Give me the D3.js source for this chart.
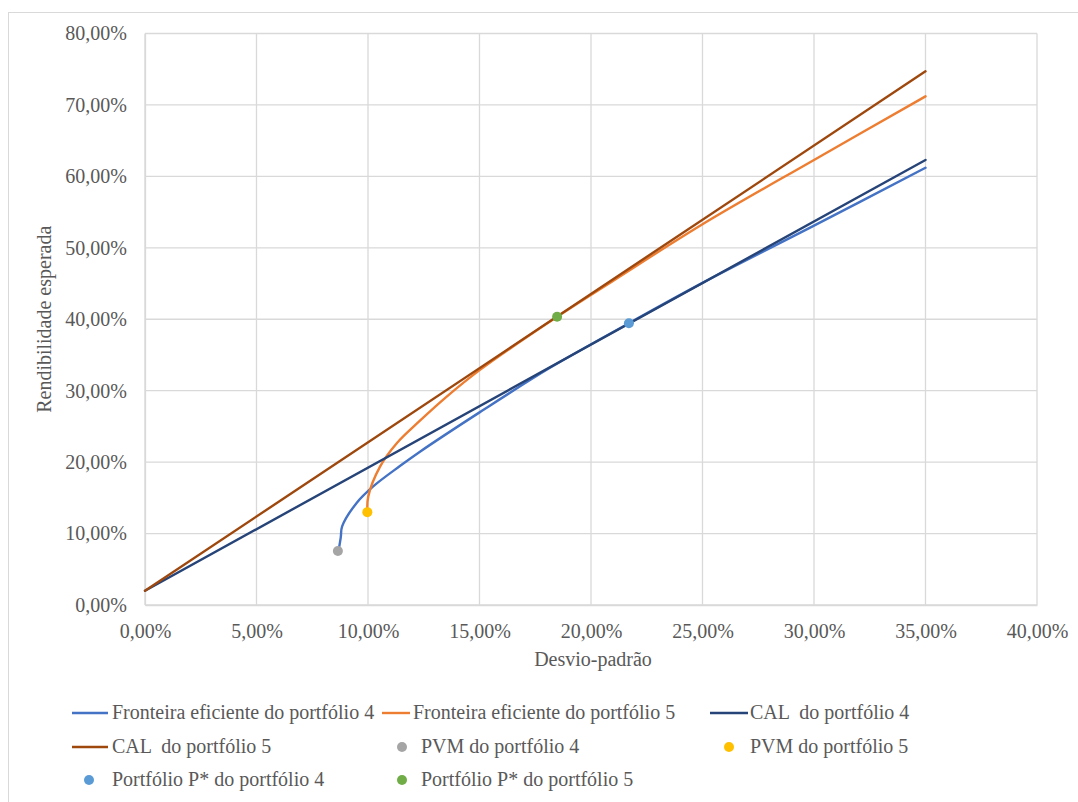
<!DOCTYPE html>
<html><head><meta charset="utf-8">
<script src="https://cdn.jsdelivr.net/npm/d3@7"></script>
<style>
html,body{margin:0;padding:0;background:#fff;}
</style></head>
<body>
<svg id="c" width="1078" height="802"></svg>
<script>
// ---- data (σ %, E[r] %) ----
const xTicks = [0, 5, 10, 15, 20, 25, 30, 35, 40];
const yTicks = [0, 10, 20, 30, 40, 50, 60, 70, 80];
const frontier4Sigma = [8.68, 8.78, 8.84, 9.49, 10.22, 11.43, 12.33, 15.02, 18.16, 21.70, 25.00, 30.00, 35.00];
const frontier4Ret   = [7.60, 9.50, 11.00, 14.29, 16.57, 19.45, 21.46, 27.00, 33.20, 39.45, 45.10, 53.10, 61.20];
const frontier5Sigma = [9.97, 10.01, 10.54, 11.29, 12.33, 13.53, 15.02, 18.48, 21.00, 25.00, 30.00, 35.00];
const frontier5Ret   = [13.00, 15.17, 19.37, 22.65, 25.80, 29.17, 32.91, 40.35, 45.40, 53.30, 62.30, 71.20];
const cal4Sigma = [0, 35];
const cal4Ret   = [2.0, 62.3];
const cal5Sigma = [0, 35];
const cal5Ret   = [2.0, 74.7];
const pvm4 = [8.65, 7.56];
const pvm5 = [9.97, 13.00];
const pStar4 = [21.70, 39.45];
const pStar5 = [18.48, 40.35];
const seriesNames = [
  "Fronteira eficiente do portfólio 4",
  "Fronteira eficiente do portfólio 5",
  "CAL  do portfólio 4",
  "CAL  do portfólio 5",
  "PVM do portfólio 4",
  "PVM do portfólio 5",
  "Portfólio P* do portfólio 4",
  "Portfólio P* do portfólio 5"
];
const colors = ["#4472C4", "#ED7D31", "#264478", "#9E480E", "#A5A5A5", "#FFC000", "#5B9BD5", "#70AD47"];

// ---- layout ----
const W = 1078, H = 802;
const plot = {left: 145, right: 1037, top: 33.5, bottom: 605};
const fs = 20;
const FONT = "\"Liberation Serif\"";
const TXT = "#595959";
const svg = d3.select("#c");
svg.append("rect").attr("x", 0).attr("y", 0).attr("width", W).attr("height", H).attr("fill", "#fff");
svg.append("rect").attr("x", 8.5).attr("y", 12.5).attr("width", 1080).attr("height", 820)
  .attr("fill", "none").attr("stroke", "#d9d9d9").attr("stroke-width", 1);

const x = d3.scaleLinear().domain([0, 40]).range([plot.left, plot.right]);
const y = d3.scaleLinear().domain([0, 80]).range([plot.bottom, plot.top]);
const fmt = v => v.toFixed(2).replace(".", ",") + "%";

// gridlines
const g = svg.append("g");
g.selectAll(".vg").data(xTicks).join("line")
  .attr("x1", d => x(d)).attr("x2", d => x(d)).attr("y1", plot.top).attr("y2", plot.bottom)
  .attr("stroke", "#d9d9d9").attr("stroke-width", 1.3);
g.selectAll(".hg").data(yTicks).join("line")
  .attr("x1", plot.left).attr("x2", plot.right).attr("y1", d => y(d)).attr("y2", d => y(d))
  .attr("stroke", "#d9d9d9").attr("stroke-width", 1.3);

// axes (labels only)
const xAxis = d3.axisBottom(x).tickValues(xTicks).tickFormat(fmt).tickSize(0).tickPadding(0);
const gx = svg.append("g").attr("transform", `translate(0,${plot.bottom})`).call(xAxis);
gx.attr("font-family", FONT);
gx.select(".domain").attr("stroke", "#d9d9d9").attr("stroke-width", 1.3);
gx.selectAll("text").attr("font-size", fs).attr("y", 27).attr("dy", "0.32em")
  .attr("font-family", FONT).attr("fill", TXT);

const yAxis = d3.axisLeft(y).tickValues(yTicks).tickFormat(fmt).tickSize(0).tickPadding(0);
const gy = svg.append("g").attr("transform", `translate(${plot.left},0)`).call(yAxis);
gy.attr("font-family", FONT);
gy.select(".domain").attr("stroke", "#d9d9d9").attr("stroke-width", 1.3);
gy.selectAll("text").attr("font-size", fs).attr("x", -18).attr("dy", "0.32em")
  .attr("font-family", FONT).attr("fill", TXT);

// axis titles
svg.append("text").attr("x", (plot.left + plot.right) / 2 + 2).attr("y", 660).attr("dy", "0.32em")
  .attr("text-anchor", "middle").attr("font-size", fs).attr("font-family", FONT).attr("fill", TXT)
  .text("Desvio-padrão");
svg.append("text").attr("transform", `translate(45,${(plot.top + plot.bottom) / 2}) rotate(-90)`)
  .attr("dy", "0.32em").attr("text-anchor", "middle").attr("font-size", fs).attr("font-family", FONT)
  .attr("fill", TXT).text("Rendibilidade esperada");

// lines
const zip = (a, b) => a.map((v, i) => [v, b[i]]);
const lineGen = d3.line().x(d => x(d[0])).y(d => y(d[1])).curve(d3.curveCatmullRom.alpha(0.5));
const lines = [
  {data: zip(frontier4Sigma, frontier4Ret), c: colors[0]},
  {data: zip(frontier5Sigma, frontier5Ret), c: colors[1]},
  {data: zip(cal4Sigma, cal4Ret), c: colors[2]},
  {data: zip(cal5Sigma, cal5Ret), c: colors[3]}
];
svg.append("g").selectAll("path").data(lines).join("path")
  .attr("d", d => lineGen(d.data)).attr("fill", "none").attr("stroke", d => d.c)
  .attr("stroke-width", 2.4).attr("stroke-linejoin", "round").attr("stroke-linecap", "round");

// points
const pts = [
  {p: pvm4, c: colors[4]}, {p: pvm5, c: colors[5]},
  {p: pStar4, c: colors[6]}, {p: pStar5, c: colors[7]}
];
svg.append("g").selectAll("circle").data(pts).join("circle")
  .attr("cx", d => x(d.p[0])).attr("cy", d => y(d.p[1])).attr("r", 5).attr("fill", d => d.c);

// legend
const rowY = [713, 747, 780];
const legendItems = [
  {i: 0, row: 0, type: "line", x0: 72, x1: 108, tx: 112},
  {i: 1, row: 0, type: "line", x0: 382, x1: 410, tx: 413},
  {i: 2, row: 0, type: "line", x0: 710, x1: 748, tx: 750},
  {i: 3, row: 1, type: "line", x0: 72, x1: 108, tx: 112},
  {i: 4, row: 1, type: "dot", cx: 402, tx: 421},
  {i: 5, row: 1, type: "dot", cx: 729, tx: 750},
  {i: 6, row: 2, type: "dot", cx: 89, tx: 112},
  {i: 7, row: 2, type: "dot", cx: 402, tx: 421}
];
const lg = svg.append("g");
legendItems.forEach(it => {
  const yy = rowY[it.row];
  if (it.type === "line") {
    lg.append("line").attr("x1", it.x0).attr("x2", it.x1).attr("y1", yy).attr("y2", yy)
      .attr("stroke", colors[it.i]).attr("stroke-width", 2.4);
  } else {
    lg.append("circle").attr("cx", it.cx).attr("cy", yy).attr("r", 5).attr("fill", colors[it.i]);
  }
  lg.append("text").attr("x", it.tx).attr("y", yy).attr("dy", "0.32em").attr("font-size", fs)
    .attr("font-family", FONT).attr("fill", TXT).attr("xml:space", "preserve")
    .style("white-space", "pre").text(seriesNames[it.i]);
});
</script>
</body></html>
